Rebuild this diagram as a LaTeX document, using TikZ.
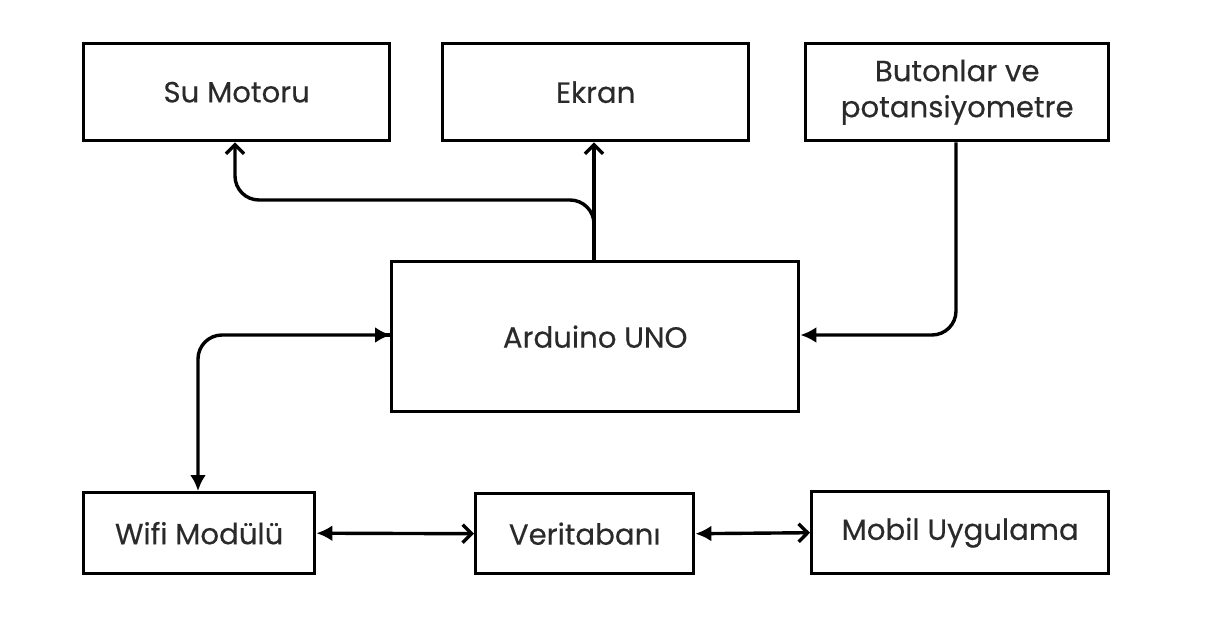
\documentclass[tikz,border=0pt]{standalone}
\usepackage{fontspec}
\setmainfont{Poppins}[FakeBold=0.35]
\usetikzlibrary{arrows.meta}
\definecolor{txt}{HTML}{2A2A2A}
\begin{document}
\begin{tikzpicture}[x=0.5pt,y=-0.5pt,
  blk/.style={draw=black,line width=1.7pt,inner sep=0pt,anchor=north west,text=txt,font=\fontsize{14.6}{18}\selectfont,align=center},
  conn/.style={line width=1.7pt,rounded corners=12pt},
  fa/.style={-{Latex[length=8pt,width=8pt]}},
  oa/.style={-{Straight Barb[length=4.5pt,width=9pt]}},
  ba/.style={{Latex[length=8pt,width=8pt]}-{Straight Barb[length=4.5pt,width=9pt]}}]
\useasboundingbox (0,0) rectangle (1221,632);
\node[blk,minimum width=153pt,minimum height=48.5pt] (su) at (82,42) {Su Motoru};
\node[blk,minimum width=153pt,minimum height=48.5pt] (ek) at (441,42) {Ekran};
\node[blk,minimum width=151.5pt,minimum height=48.5pt] (bt) at (804,42) {Butonlar ve\\potansiyometre};
\node[blk,minimum width=203.5pt,minimum height=75pt] (ar) at (390,260) {Arduino UNO};
\node[blk,minimum width=115.5pt,minimum height=40.5pt] (wf) at (82,491) {Wifi Modülü};
\node[blk,minimum width=109pt,minimum height=40pt] (vt) at (474,492) {Veritabanı};
\node[blk,minimum width=148.5pt,minimum height=41pt] (mb) at (810,490) {Mobil Uygulama};
\coordinate (atop) at (594,260);
\draw[conn,oa] (atop) -- (ek.south -| atop);
\draw[conn,oa] (atop) -- (594,200) -- (235,200) -- (su.south -| 235,0);
\draw[conn,fa] (bt.south -| 956,0) -- (956,335) -- (ar.east |- 0,335);
\draw[conn,fa] (390,335) -- (198,335) -- (wf.north -| 198,0);
\draw[conn,fa] (ar.west |- 0,335) -- (391,335);
\draw[conn,ba] (wf.east) -- (vt.west);
\draw[conn,ba] (vt.east) -- (mb.west);
\end{tikzpicture}
\end{document}
